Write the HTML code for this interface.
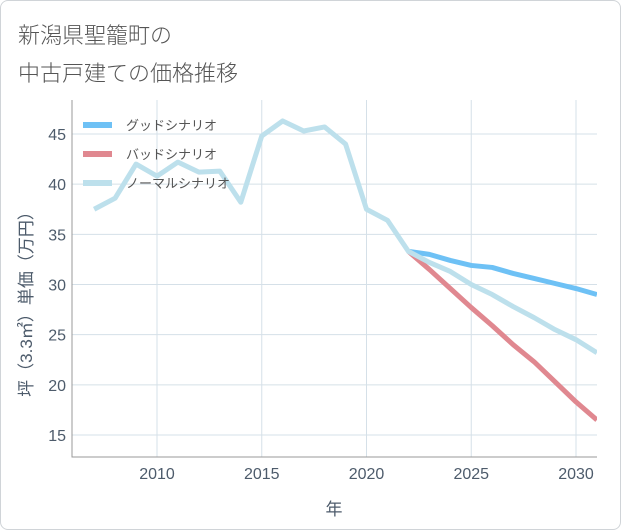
<!DOCTYPE html>
<html><head><meta charset="utf-8"><style>
body{margin:0;background:#fff;}
#wrap{position:relative;width:619px;height:528px;border:1px solid #d0d4d8;border-radius:8px;overflow:hidden;background:#fff;font-family:"Liberation Sans","Noto Sans CJK JP",sans-serif;}
.title{position:absolute;left:17px;font-size:22px;color:#555;font-weight:300;}
</style></head><body>
<div id="wrap">
<div class="title" style="top:17px">新潟県聖籠町の</div>
<div class="title" style="top:55px">中古戸建ての価格推移</div>
<svg id="chart" width="621" height="530" style="position:absolute;left:-1px;top:-1px"></svg>
</div>
<script>
const years=[2007,2008,2009,2010,2011,2012,2013,2014,2015,2016,2017,2018,2019,2020,2021,2022,2023,2024,2025,2026,2027,2028,2029,2030,2031];
const normalVals=[37.5,38.6,42,40.8,42.2,41.2,41.3,38.2,44.8,46.3,45.3,45.7,44,37.5,36.4,33.3,32.2,31.3,30,29,27.8,26.7,25.5,24.5,23.2];
const futureYears=[2022,2023,2024,2025,2026,2027,2028,2029,2030,2031];
const goodVals=[33.3,33,32.4,31.9,31.7,31.1,30.6,30.1,29.6,29.0];
const badVals=[33.3,31.5,29.6,27.7,25.9,24,22.3,20.3,18.3,16.5];
const yTicks=[15,20,25,30,35,40,45];
const xTicks=[2010,2015,2020,2025,2030];
const legendLabels=["グッドシナリオ","バッドシナリオ","ノーマルシナリオ"];
const colors=["#6ec1f5","#e08890","#bde0ec"];

const NS="http://www.w3.org/2000/svg";
const svg=document.getElementById('chart');
const L=72,R=597,T=100,B=457;
const TXT='#4d5b6b';
const xs=y=>157+(y-2010)*(576-157)/20;
const ys=v=>134+(45-v)*(435-134)/30;
function mk(tag,attrs,parent){const e=document.createElementNS(NS,tag);for(const k in attrs)e.setAttribute(k,attrs[k]);(parent||svg).appendChild(e);return e;}

for(const t of yTicks){
  const g=mk('line',{x1:L,x2:R,y1:ys(t),y2:ys(t),stroke:'#d5e0e8','stroke-width':1});
  
  
  const tx=mk('text',{x:L-6,y:ys(t)+6,'text-anchor':'end','font-size':16,fill:TXT,'font-family':'Liberation Sans, sans-serif'});
  tx.textContent=t;
  
  
}
for(const t of xTicks){
  const g=mk('line',{x1:xs(t),x2:xs(t),y1:T,y2:B,stroke:'#d5e0e8','stroke-width':1});
  
  
  const tx=mk('text',{x:xs(t),y:B+22,'text-anchor':'middle','font-size':16,fill:TXT,'font-family':'Liberation Sans, sans-serif'});
  tx.textContent=t;
  
  
}
const ax=mk('polyline',{points:`${L},${T} ${L},${B} ${R},${B}`,fill:'none',stroke:'#999','stroke-width':1});



const xt=mk('text',{x:334,y:515,'text-anchor':'middle','font-size':17,fill:TXT,'font-family':'Liberation Sans, Noto Sans CJK JP, sans-serif'});
xt.textContent='年';


const yt=mk('text',{x:0,y:0,'text-anchor':'middle','font-size':17,fill:TXT,transform:'translate(32,300) rotate(-90)','font-family':'Liberation Sans, Noto Sans CJK JP, sans-serif'});
yt.textContent='坪（3.3㎡）単価（万円）';



const clip=mk('clipPath',{id:'pc'});mk('rect',{x:L,y:T,width:R-L,height:B-T},clip);
function line(xv,vals,col,name){
  const p=mk('polyline',{points:xv.map((y,i)=>xs(y)+','+ys(vals[i])).join(' '),fill:'none',stroke:col,'stroke-width':5,'stroke-linejoin':'round','clip-path':'url(#pc)'});
  
  
}
line(futureYears,goodVals,colors[0],'good-scenario-line');
line(futureYears,badVals,colors[1],'bad-scenario-line');
line(years,normalVals,colors[2],'normal-scenario-line');

legendLabels.forEach((lab,i)=>{
  const y=125+i*29;
  const s=mk('line',{x1:83,x2:112,y1:y,y2:y,stroke:colors[i],'stroke-width':6});
  
  
  const t=mk('text',{x:126,y:y+5,'font-size':13,fill:'#555','font-family':'Liberation Sans, Noto Sans CJK JP, sans-serif'});
  t.textContent=lab;
  
  
});
</script>
</body></html>
